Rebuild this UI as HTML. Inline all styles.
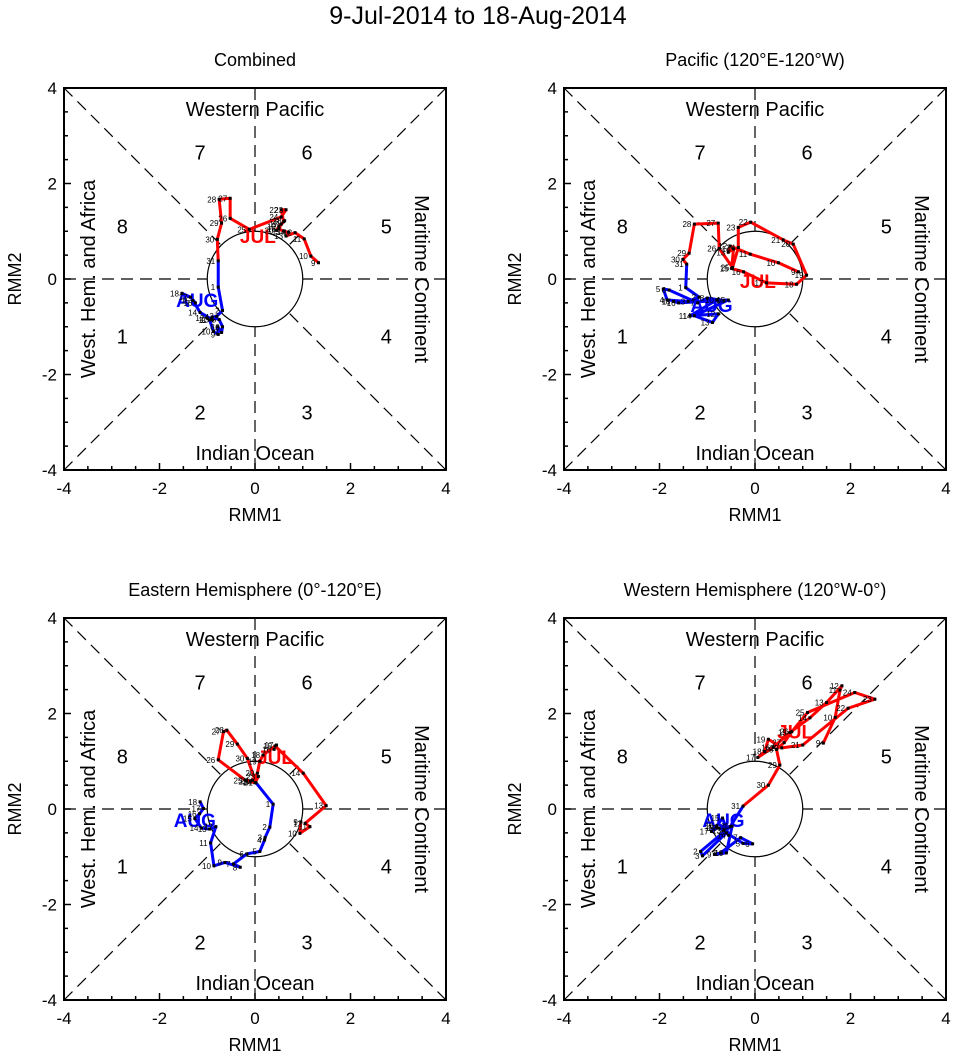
<!DOCTYPE html>
<html><head><meta charset="utf-8"><style>
html,body{margin:0;padding:0;background:#fff;}
svg{display:block;font-family:"Liberation Sans",sans-serif;}
</style></head><body>
<svg id="chart" width="956" height="1060" viewBox="0 0 956 1060" xmlns="http://www.w3.org/2000/svg">
<text x="478" y="24" text-anchor="middle" font-size="25">9-Jul-2014 to 18-Aug-2014</text>
</svg>
<script>
const panelTitles = ["Combined","Pacific (120°E-120°W)","Eastern Hemisphere (0°-120°E)","Western Hemisphere (120°W-0°)"];
const tickValues = [-4,-2,0,2,4];
const julDays = [9,10,11,12,13,14,15,16,17,18,19,20,21,22,23,24,25,26,27,28,29,30,31];
const augDays = [1,2,3,4,5,6,7,8,9,10,11,12,13,14,15,16,17,18];
const p1RedX=[1.33,1.17,1.03,0.84,0.65,0.70,0.60,0.50,0.55,0.62,0.50,0.45,0.60,0.55,0.65,0.55,-0.12,-0.52,-0.52,-0.75,-0.70,-0.79,-0.77];
const p1RedY=[0.34,0.48,0.84,0.97,0.90,0.98,1.00,1.05,1.15,1.22,1.10,1.02,1.20,1.45,1.45,1.30,1.04,1.27,1.69,1.67,1.17,0.83,0.38];
const p1BlueX=[-0.77,-0.68,-0.80,-0.90,-0.75,-0.68,-0.70,-0.78,-0.77,-0.87,-0.95,-1.00,-0.90,-1.15,-1.30,-1.25,-1.35,-1.53];
const p1BlueY=[-0.17,-0.66,-0.78,-0.80,-0.85,-1.00,-1.12,-1.00,-1.16,-1.10,-0.86,-0.82,-0.85,-0.70,-0.45,-0.50,-0.38,-0.30];
const p2RedX=[0.91,0.49,-0.10,-0.52,-0.56,-0.45,-0.49,-0.24,0.24,0.87,1.08,0.80,0.59,-0.09,-0.35,-0.35,-0.47,-0.75,-0.77,-1.27,-1.38,-1.51,-1.43];
const p2RedY=[0.15,0.34,0.52,0.69,0.56,0.63,0.22,0.15,-0.08,-0.11,0.08,0.73,0.82,1.19,1.08,0.66,0.24,0.64,1.17,1.15,0.54,0.41,0.31];
const p2BlueX=[-1.45,-1.17,-1.40,-1.84,-1.92,-1.80,-1.20,-1.00,-0.65,-0.80,-1.36,-0.77,-0.89,-1.27,-0.56,-1.60,-1.70,-1.71];
const p2BlueY=[-0.18,-0.38,-0.47,-0.44,-0.21,-0.23,-0.50,-0.40,-0.45,-0.44,-0.77,-0.73,-0.91,-0.77,-0.44,-0.50,-0.47,-0.47];
const p3RedX=[0.96,0.94,1.15,1.05,1.49,1.01,0.42,0.40,0.45,0.17,0.10,0.05,-0.05,-0.10,0.07,0.00,-0.20,-0.77,-0.66,-0.59,-0.37,-0.16,0.02];
const p3RedY=[-0.27,-0.51,-0.37,-0.30,0.07,0.75,1.32,1.25,1.34,1.13,1.00,0.75,0.60,0.58,0.68,0.55,0.60,1.03,1.62,1.65,1.36,1.06,0.55];
const p3BlueX=[0.38,0.31,0.21,0.20,0.10,-0.17,-0.45,-0.31,-0.63,-0.86,-0.93,-0.82,-0.95,-1.12,-1.26,-1.16,-1.08,-1.15];
const p3BlueY=[0.10,-0.38,-0.60,-0.65,-0.89,-0.94,-1.15,-1.22,-1.12,-1.19,-0.71,-0.37,-0.42,-0.40,-0.20,-0.10,0.01,0.15];
const p4RedX=[1.43,1.68,1.78,1.82,1.50,1.15,0.73,0.38,0.06,0.20,0.28,0.56,1.00,1.95,2.51,2.09,1.10,0.77,0.61,0.45,0.52,0.28,-0.25];
const p4RedY=[1.38,1.92,2.49,2.58,2.23,1.91,1.60,1.29,1.08,1.20,1.46,1.28,1.34,2.11,2.30,2.44,2.02,1.62,1.39,1.25,0.92,0.50,0.06];
const p4BlueX=[-0.52,-1.14,-1.10,-0.60,-0.25,-0.05,-0.30,-0.72,-0.85,-0.60,-0.48,-0.75,-0.65,-0.55,-0.68,-0.80,-0.91,-0.80];
const p4BlueY=[-0.37,-0.89,-0.98,-0.50,-0.72,-0.73,-0.60,-0.92,-0.95,-0.92,-0.36,-0.40,-0.45,-0.55,-0.19,-0.35,-0.47,-0.40];
const julLabelX=[0.06,0.06,0.42,0.84], julLabelY=[0.90,-0.04,1.09,1.62];
const augLabelX=[-1.21,-0.91,-1.26,-0.66], augLabelY=[-0.44,-0.54,-0.23,-0.23];
const redXs=[p1RedX,p2RedX,p3RedX,p4RedX], redYs=[p1RedY,p2RedY,p3RedY,p4RedY];
const blueXs=[p1BlueX,p2BlueX,p3BlueX,p4BlueX], blueYs=[p1BlueY,p2BlueY,p3BlueY,p4BlueY];

const NS="http://www.w3.org/2000/svg";
const svg=document.getElementById('chart');
function mk(tag,attrs,parent){const e=document.createElementNS(NS,tag);for(const k in attrs)e.setAttribute(k,attrs[k]);(parent||svg).appendChild(e);return e;}
const S=47.75;
const origins=[[64,88],[564,88],[64,618],[564,618]];
origins.forEach((o,pi)=>{
  const L=o[0],T=o[1],cx=L+4*S,cy=T+4*S;
  const sx=v=>cx+v*S, sy=v=>cy-v*S;
  const g=mk('g',{});
  
  
  const t=mk('text',{x:cx,y:T-22,'text-anchor':'middle','font-size':18},g);t.textContent=panelTitles[pi];
  
  
  const dl=[[-4,-4,4,4],[-4,4,4,-4],[-4,0,4,0],[0,-4,0,4]];
  dl.forEach(d=>{
    const a=Math.atan2(d[3]-d[1],d[2]-d[0]);
    [[d[0],d[1],Math.cos(a)*-1,Math.sin(a)*-1],[d[2],d[3],Math.cos(a),Math.sin(a)]].forEach(s=>{
      const ln=mk('line',{x1:sx(s[0]),y1:sy(s[1]),x2:sx(s[2]),y2:sy(s[3]),stroke:'#000','stroke-width':1.2,'stroke-dasharray':'12,7'},g);
      
      
    });
  });
  const c=mk('circle',{cx:cx,cy:cy,r:S,fill:'none',stroke:'#000','stroke-width':1.2},g);
  
  
  const fr=mk('rect',{x:L,y:T,width:8*S,height:8*S,fill:'none',stroke:'#000','stroke-width':2},g);
  
  
  for(let v=-4;v<=4.001;v+=0.5){
    const len=(v%2===0)?7:4;
    mk('line',{x1:sx(v),y1:T+8*S,x2:sx(v),y2:T+8*S-len,stroke:'#000','stroke-width':1.5},g);
    mk('line',{x1:L,y1:sy(v),x2:L+len,y2:sy(v),stroke:'#000','stroke-width':1.5},g);
  }
  tickValues.forEach(v=>{
    const tx=mk('text',{x:sx(v),y:T+8*S+24,'text-anchor':'middle','font-size':17},g);tx.textContent=v;
    
    
    const ty=mk('text',{x:L-7,y:sy(v)+6,'text-anchor':'end','font-size':17},g);ty.textContent=v;
    
    
  });
  const xa=mk('text',{x:cx,y:T+8*S+51,'text-anchor':'middle','font-size':18},g);xa.textContent='RMM1';
  
  
  const ya=mk('text',{x:0,y:0,'text-anchor':'middle','font-size':18,transform:`translate(${L-43},${cy}) rotate(-90)`},g);ya.textContent='RMM2';
  
  
  const regions=[['Western Pacific',cx,T+28,0],['Indian Ocean',cx,T+8*S-10,0]];
  regions.forEach(r=>{const e=mk('text',{x:r[1],y:r[2],'text-anchor':'middle','font-size':20},g);e.textContent=r[0];
    
    });
  const w=mk('text',{x:0,y:0,'text-anchor':'middle','font-size':20,transform:`translate(${L+31},${cy}) rotate(-90)`},g);w.textContent='West. Hem. and Africa';
  
  
  const m=mk('text',{x:0,y:0,'text-anchor':'middle','font-size':20,transform:`translate(${L+8*S-31},${cy}) rotate(90)`},g);m.textContent='Maritime Continent';
  
  
  const ph=[['1',-2.78,-1.2],['2',-1.15,-2.8],['3',1.09,-2.8],['4',2.75,-1.2],['5',2.75,1.1],['6',1.09,2.65],['7',-1.15,2.65],['8',-2.78,1.1]];
  ph.forEach(p=>{const e=mk('text',{x:sx(p[1]),y:sy(p[2])+7,'text-anchor':'middle','font-size':20},g);e.textContent=p[0];
    
    });
  const rx=redXs[pi],ry=redYs[pi],bx=blueXs[pi],by=blueYs[pi];
  const rp=rx.map((v,i)=>sx(v)+','+sy(ry[i])).join(' ');
  const red=mk('polyline',{points:rp,fill:'none',stroke:'#ff0000','stroke-width':3,'stroke-linejoin':'round'},g);
  
  
  const bp=[sx(rx[rx.length-1])+','+sy(ry[ry.length-1])].concat(bx.map((v,i)=>sx(v)+','+sy(by[i]))).join(' ');
  const blue=mk('polyline',{points:bp,fill:'none',stroke:'#0000ff','stroke-width':3,'stroke-linejoin':'round'},g);
  
  
  const jl=mk('text',{x:sx(julLabelX[pi]),y:sy(julLabelY[pi])+7,'text-anchor':'middle','font-size':19,'font-weight':'bold',fill:'#ff0000'},g);jl.textContent='JUL';
  
  
  const al=mk('text',{x:sx(augLabelX[pi]),y:sy(augLabelY[pi])+7,'text-anchor':'middle','font-size':19,'font-weight':'bold',fill:'#0000ff'},g);al.textContent='AUG';
  
  
  [[rx,ry,julDays],[bx,by,augDays]].forEach(s=>{
    s[0].forEach((v,i)=>{
      const d=mk('rect',{x:sx(v)-1.5,y:sy(s[1][i])-1.5,width:3,height:3,fill:'#000'},g);
      
      
      const l=mk('text',{x:sx(v)-3,y:sy(s[1][i])+3,'text-anchor':'end','font-size':8},g);l.textContent=s[2][i];
      
      
    });
  });
});
</script>
</body></html>
